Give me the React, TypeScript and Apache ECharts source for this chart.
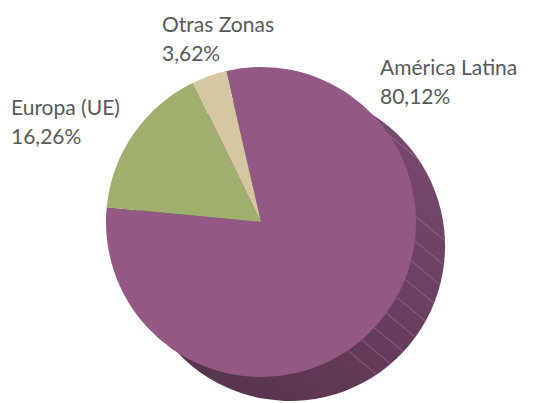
import React, { useEffect, useRef } from "react";
import * as echarts from "echarts";

const categories = ["América Latina", "Europa (UE)", "Otras Zonas"];
const values = [80.12, 16.26, 3.62];
const sliceColors = ["#935883", "#9fb06e", "#d5c7a2"];

// layout (not data)
const W = 554;
const H = 403;
const CX = 261;
const CY = 222;
const R = 155;
const DX = 29;
const DY = 24;
const labelPos: [number, number][] = [
  [380, 52],
  [11, 92],
  [162, 9],
];
const stripeAngles = [-34, -2, 7, 14.5, 21.7, 29, 36, 43, 49.5, 56];

export default function App() {
  const ref = useRef<HTMLDivElement>(null);
  useEffect(() => {
    if (!ref.current) return;
    const chart = echarts.init(ref.current, undefined, { renderer: "svg" });
    const data = categories.map((name, i) => ({
      name,
      value: values[i],
      itemStyle: { color: sliceColors[i] },
    }));
    const stripes = stripeAngles.map((a) => {
      const t = (a * Math.PI) / 180;
      const x1 = CX + R * Math.cos(t);
      const y1 = CY + R * Math.sin(t);
      return {
        type: "line",
        z: 5,
        silent: true,
        shape: { x1, y1, x2: x1 + DX, y2: y1 + DY },
        style: { stroke: "rgba(205,160,195,0.55)", lineWidth: 0.7 },
      };
    });
    chart.setOption({
      animation: false,
      graphic: { elements: stripes },
      series: [
        {
          type: "pie",
          z: 1,
          silent: true,
          center: [CX + DX, CY + DY],
          radius: R,
          startAngle: 103,
          label: { show: false },
          labelLine: { show: false },
          data: [
            {
              name: "",
              value: 1,
              itemStyle: {
                color: new echarts.graphic.LinearGradient(1, 0, 0.35, 1, [
                  { offset: 0, color: "#7e4c72" },
                  { offset: 1, color: "#58344f" },
                ]),
              },
            },
          ],
        },
        {
          type: "pie",
          z: 10,
          center: [CX, CY],
          radius: R,
          startAngle: 103,
          clockwise: true,
          itemStyle: { borderWidth: 0 },
          label: {
            show: true,
            position: "outside",
            overflow: "none",
            fontFamily: "Lato",
            fontSize: 21,
            lineHeight: 29,
            color: "#58595b",
            formatter: (p: any) =>
              `${p.name}\n${Number(p.value).toFixed(2).replace(".", ",")}%`,
          },
          labelLine: { show: false },
          labelLayout: (p: any) => ({
            x: labelPos[p.dataIndex][0],
            y: labelPos[p.dataIndex][1],
            align: "left",
            verticalAlign: "top",
            width: 200,
          }),
          data,
        },
      ],
    });
    return () => chart.dispose();
  }, []);
  return (
    <div
      ref={ref}
      style={{ position: "fixed", left: 0, top: 0, width: W, height: H, background: "#fff" }}
    />
  );
}
